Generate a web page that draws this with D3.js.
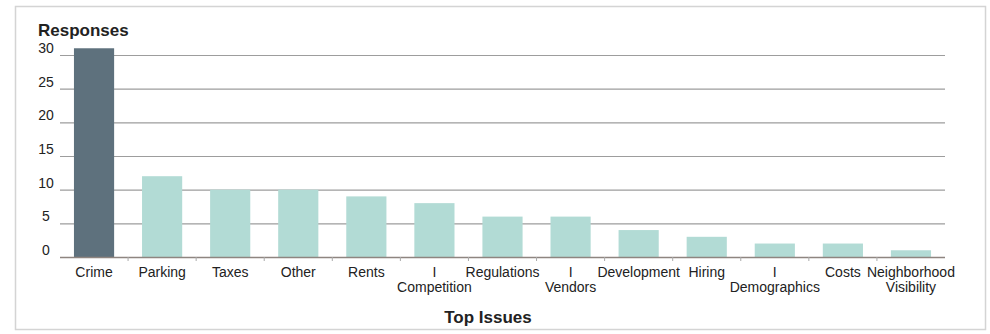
<!DOCTYPE html>
<html lang="en">
<head>
<meta charset="utf-8">
<script src="https://d3js.org/d3.v7.min.js"></script>
<style>
  body { margin: 0; background: #fff; }
  svg text { font-family: "Liberation Sans", Arial, sans-serif; fill: #222; }
</style>
</head>
<body>
<svg width="990" height="334" id="chart"></svg>
<script>
// data
var issues = ["Crime", "Parking", "Taxes", "Other", "Rents", "| Competition", "Regulations",
              "| Vendors", "Development", "Hiring", "| Demographics", "Costs", "Neighborhood Visibility"];
var responses = [31, 12, 10, 10, 9, 8, 6, 6, 4, 3, 2, 2, 1];
var yTicks = [0, 5, 10, 15, 20, 25, 30];

var svg = d3.select("#chart");

// panel frame
svg.append("rect")
  .attr("x", 15.5).attr("y", 6.5)
  .attr("width", 970).attr("height", 323)
  .attr("fill", "#fff")
  .attr("stroke", "#d4d4d4")
  .attr("stroke-width", 1.5);

var plotLeft = 60, plotRight = 945, plotTop = 55, plotBottom = 257;

var x = d3.scaleBand().domain(issues).range([plotLeft, plotRight])
  .paddingInner(0.41).paddingOuter(0.205);
var y = d3.scaleLinear().domain([0, 30]).range([plotBottom, plotTop]);

// grid lines
svg.append("g").selectAll("line")
  .data(yTicks.filter(function(d) { return d > 0; }))
  .enter().append("line")
  .attr("x1", plotLeft).attr("x2", plotRight)
  .attr("y1", function(d) { return y(d) + 0.5; })
  .attr("y2", function(d) { return y(d) + 0.5; })
  .attr("stroke", "#9d9d9d")
  .attr("stroke-width", 1.2);

// y labels
svg.append("g").selectAll("text")
  .data(yTicks)
  .enter().append("text")
  .attr("x", 46)
  .attr("y", function(d) { return y(d) - 2; })
  .attr("text-anchor", "middle")
  .attr("font-size", "14px")
  .text(function(d) { return d; });

// bars
svg.append("g").selectAll("rect")
  .data(responses)
  .enter().append("rect")
  .attr("x", function(d, i) { return x(issues[i]); })
  .attr("y", function(d) { return y(d); })
  .attr("width", x.bandwidth())
  .attr("height", function(d) { return plotBottom - y(d); })
  .attr("fill", function(d, i) { return i === 0 ? "#5e717d" : "#b2dbd5"; });

// baseline
svg.append("line")
  .attr("x1", plotLeft).attr("x2", plotRight)
  .attr("y1", plotBottom + 0.5).attr("y2", plotBottom + 0.5)
  .attr("stroke", "#8e8580")
  .attr("stroke-width", 1.5);

// category separators below the axis
svg.append("g").selectAll("line")
  .data(d3.range(1, issues.length))
  .enter().append("line")
  .attr("x1", function(i) { return plotLeft + i * x.step(); })
  .attr("x2", function(i) { return plotLeft + i * x.step(); })
  .attr("y1", plotBottom).attr("y2", plotBottom + 4)
  .attr("stroke", "#aaa");

// category labels
var lab = svg.append("g").selectAll("text")
  .data(issues)
  .enter().append("text")
  .attr("text-anchor", "middle")
  .attr("font-size", "14px")
  .attr("transform", function(d) { return "translate(" + (x(d) + x.bandwidth() / 2) + ",0)"; });

lab.each(function(d) {
  var lines;
  if (d.indexOf("| ") === 0) lines = ["I", d.slice(2)];
  else if (d === "Neighborhood Visibility") lines = ["Neighborhood", "Visibility"];
  else lines = [d];
  d3.select(this).selectAll("tspan")
    .data(lines)
    .enter().append("tspan")
    .attr("x", 0)
    .attr("y", function(t, k) { return 277 + k * 15; })
    .text(function(t) { return t; });
});

// titles
svg.append("text")
  .attr("x", 38).attr("y", 36)
  .attr("font-size", "17px")
  .attr("font-weight", "bold")
  .text("Responses");

svg.append("text")
  .attr("x", 488).attr("y", 323)
  .attr("text-anchor", "middle")
  .attr("font-size", "17px")
  .attr("font-weight", "bold")
  .text("Top Issues");
</script>
</body>
</html>
